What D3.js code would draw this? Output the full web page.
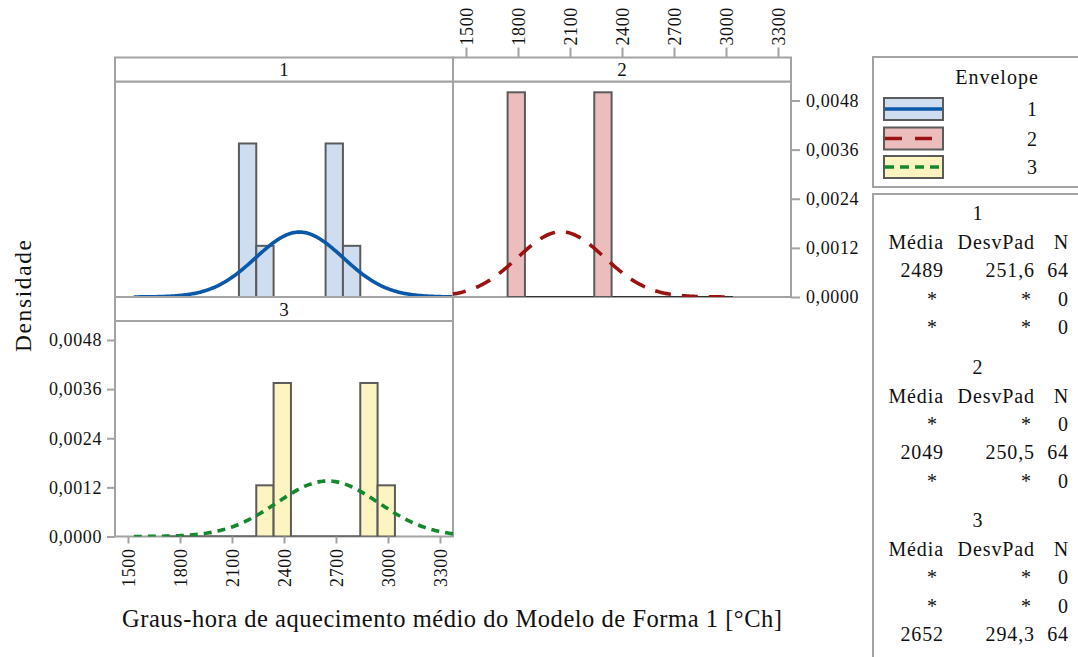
<!DOCTYPE html>
<html>
<head>
<meta charset="utf-8">
<script src="https://cdn.jsdelivr.net/npm/d3@7/dist/d3.min.js"></script>
<style>
  html, body { margin: 0; padding: 0; background: #fff; }
  svg { display: block; font-family: "Liberation Serif", "Times New Roman", serif; }
</style>
</head>
<body>
<svg id="chart" width="1078" height="657"></svg>
<script>
// Envelope groups
const groups = ["1", "2", "3"];

// Histogram bin edges (°Ch), shared by every panel
const binEdges = [1740, 1840, 1940, 2040, 2140, 2240, 2340, 2440, 2540, 2640, 2740, 2840, 2940, 3040];

// Counts per bin for each envelope
const counts1 = [0, 0, 0, 0, 24, 8, 0, 0, 0, 24, 8, 0, 0];
const counts2 = [32, 0, 0, 0, 0, 32, 0, 0, 0, 0, 0, 0, 0];
const counts3 = [0, 0, 0, 0, 0, 8, 24, 0, 0, 0, 0, 24, 8];

// Summary statistics per envelope
const means = [2489, 2049, 2652];
const stdevs = [251.6, 250.5, 294.3];
const sizes = [64, 64, 64];
const meanLabels = ["2489", "2049", "2652"];
const stdevLabels = ["251,6", "250,5", "294,3"];

// Axis ticks
const xTicks = [1500, 1800, 2100, 2400, 2700, 3000, 3300];
const yTicks = [0, 0.0012, 0.0024, 0.0036, 0.0048];

const countsByGroup = [counts1, counts2, counts3];

const fills = ["#cedef0", "#ebbdbd", "#fdf5c1"];
const lineColors = ["#0a58aa", "#9a1212", "#14882c"];
const dashes = [null, "16,11", "8,6"];

const svg = d3.select("#chart");
const frameColor = "#a3a3a3";

const locale = d3.formatLocale({ decimal: ",", thousands: ".", grouping: [3], currency: ["", ""] });
const yFmt = locale.format(".4f");

// Panel geometry
const panelW = 338;
const stripH = 24;
const plotH = 215.5;
const panels = [
  { g: 0, x: 115, stripY: 57.5 },
  { g: 1, x: 453, stripY: 57.5 },
  { g: 2, x: 115, stripY: 297 }
];

const x = d3.scaleLinear().domain([1425, 3375]).range([0, panelW]);
const y = d3.scaleLinear().domain([0, 0.005264]).range([plotH, 0]);

const defs = svg.append("defs");
defs.append("clipPath").attr("id", "plotClip")
  .append("rect").attr("x", 0).attr("y", -2).attr("width", panelW).attr("height", plotH + 2);

function normalPdf(v, m, s) {
  const z = (v - m) / s;
  return Math.exp(-0.5 * z * z) / (s * Math.sqrt(2 * Math.PI));
}

panels.forEach(p => {
  const gi = p.g;
  const counts = countsByGroup[gi];
  const n = sizes[gi];
  const plotY = p.stripY + stripH;
  const pg = svg.append("g").attr("transform", `translate(${p.x},${plotY})`);

  // strip header
  svg.append("rect")
    .attr("x", p.x).attr("y", p.stripY).attr("width", panelW).attr("height", stripH)
    .attr("fill", "#fff").attr("stroke", frameColor).attr("stroke-width", 2);
  svg.append("text")
    .attr("x", p.x + panelW / 2).attr("y", p.stripY + stripH / 2)
    .attr("dy", "0.36em").attr("text-anchor", "middle")
    .attr("font-size", 19).attr("fill", "#111").text(groups[gi]);

  // plot frame
  pg.append("rect")
    .attr("width", panelW).attr("height", plotH)
    .attr("fill", "#fff").attr("stroke", frameColor).attr("stroke-width", 2);

  const inner = pg.append("g").attr("clip-path", "url(#plotClip)");

  // histogram bars
  const bins = counts.map((c, i) => ({ x0: binEdges[i], x1: binEdges[i + 1], d: c / (n * (binEdges[i + 1] - binEdges[i])) }));
  inner.append("line")
    .attr("x1", x(binEdges[0])).attr("x2", x(binEdges[binEdges.length - 1]))
    .attr("y1", y(0)).attr("y2", y(0))
    .attr("stroke", "#333").attr("stroke-width", 2);
  inner.selectAll("rect.bar").data(bins.filter(b => b.d > 0)).enter().append("rect")
    .attr("class", "bar")
    .attr("x", b => x(b.x0)).attr("width", b => x(b.x1) - x(b.x0))
    .attr("y", b => y(b.d)).attr("height", b => y(0) - y(b.d))
    .attr("fill", fills[gi]).attr("stroke", "#5b5b5b").attr("stroke-width", 2);

  // fitted normal curve
  const m = means[gi], s = stdevs[gi];
  const lo = m - 3.8 * s, hi = m + 3.8 * s;
  const pts = d3.range(0, 301).map(k => lo + (hi - lo) * k / 300);
  const line = d3.line().x(v => x(v)).y(v => y(normalPdf(v, m, s)));
  const path = inner.append("path").datum(pts)
    .attr("d", line).attr("fill", "none")
    .attr("stroke", lineColors[gi]).attr("stroke-width", 3.6);
  if (dashes[gi]) path.attr("stroke-dasharray", dashes[gi]);
});

// axes
function styleAxis(g) {
  g.selectAll(".domain").remove();
  g.selectAll(".tick line").attr("stroke", frameColor).attr("stroke-width", 2);
  g.selectAll(".tick text").attr("fill", "#111").attr("font-size", 18)
    .attr("font-family", "Liberation Serif, Times New Roman, serif")
    .style("letter-spacing", "0.6px");
}

// left y axis for panel 3
const p3 = panels[2];
svg.append("g")
  .attr("transform", `translate(${p3.x},${p3.stripY + stripH})`)
  .call(d3.axisLeft(y).tickValues(yTicks).tickFormat(yFmt).tickSize(8).tickPadding(5))
  .call(styleAxis);

// right y axis for panel 2
const p2 = panels[1];
svg.append("g")
  .attr("transform", `translate(${p2.x + panelW},${p2.stripY + stripH})`)
  .call(d3.axisRight(y).tickValues(yTicks).tickFormat(yFmt).tickSize(9).tickPadding(6))
  .call(styleAxis);

// bottom x axis for panel 3
const bx = svg.append("g")
  .attr("transform", `translate(${p3.x},${p3.stripY + stripH + plotH})`)
  .call(d3.axisBottom(x).tickValues(xTicks).tickFormat(d3.format("d")).tickSize(7))
  .call(styleAxis);
bx.selectAll(".tick text")
  .attr("transform", "rotate(-90)").attr("text-anchor", "end")
  .attr("x", -12).attr("y", 0).attr("dy", "0.34em");

// top x axis for panel 2
const tx = svg.append("g")
  .attr("transform", `translate(${p2.x},${p2.stripY})`)
  .call(d3.axisTop(x).tickValues(xTicks).tickFormat(d3.format("d")).tickSize(10))
  .call(styleAxis);
tx.selectAll(".tick text")
  .attr("transform", "rotate(-90)").attr("text-anchor", "start")
  .attr("x", 12).attr("y", 0).attr("dy", "0.34em");

// axis titles
svg.append("text")
  .attr("x", 452).attr("y", 627).attr("text-anchor", "middle")
  .attr("font-size", 24.5).attr("fill", "#111")
  .attr("textLength", 660).attr("lengthAdjust", "spacing")
  .text("Graus-hora de aquecimento médio do Modelo de Forma 1 [°Ch]");

svg.append("text")
  .attr("transform", "translate(31,296) rotate(-90)")
  .attr("text-anchor", "middle")
  .attr("font-size", 23.5).attr("fill", "#111")
  .attr("textLength", 112).attr("lengthAdjust", "spacing")
  .text("Densidade");

// legend
const lg = svg.append("g");
lg.append("rect").attr("x", 873).attr("y", 57).attr("width", 220).attr("height", 130)
  .attr("fill", "#fff").attr("stroke", frameColor).attr("stroke-width", 2);
lg.append("text").attr("x", 997).attr("y", 77).attr("dy", "0.35em").attr("text-anchor", "middle")
  .attr("font-size", 20).style("letter-spacing", "1px").attr("fill", "#111").text("Envelope");
const legRows = [98, 127.5, 156];
groups.forEach((gname, i) => {
  const ry = legRows[i];
  lg.append("rect").attr("x", 884).attr("y", ry).attr("width", 59).attr("height", 22)
    .attr("fill", fills[i]).attr("stroke", "#5b5b5b").attr("stroke-width", 2);
  const ln = lg.append("line").attr("x1", 885).attr("x2", 942).attr("y1", ry + 11).attr("y2", ry + 11)
    .attr("stroke", lineColors[i]).attr("stroke-width", 3.4);
  if (i === 1) ln.attr("stroke-dasharray", "17,13");
  if (i === 2) ln.attr("stroke-dasharray", "9,6");
  lg.append("text").attr("x", 1032).attr("y", ry + 11).attr("dy", "0.35em").attr("text-anchor", "middle")
    .attr("font-size", 20).attr("fill", "#111").text(gname);
});

// summary statistics table
const st = svg.append("g");
st.append("rect").attr("x", 873).attr("y", 194).attr("width", 220).attr("height", 480)
  .attr("fill", "#fff").attr("stroke", frameColor).attr("stroke-width", 2);
const colRight = [944, 1035, 1069];
function cell(xp, yp, txt, anchor) {
  st.append("text").attr("x", xp).attr("y", yp).attr("dy", "0.35em")
    .attr("text-anchor", anchor).attr("font-size", 20).attr("fill", "#111")
    .style("letter-spacing", "0.9px").text(txt);
}
groups.forEach((gname, i) => {
  const by = 213 + i * 153.5;
  cell(978, by, gname, "middle");
  cell(colRight[0], by + 29, "Média", "end");
  cell(colRight[1], by + 29, "DesvPad", "end");
  cell(colRight[2], by + 29, "N", "end");
  groups.forEach((_, j) => {
    const ry = by + 57 + j * 28.7;
    if (j === i) {
      cell(colRight[0], ry, meanLabels[i], "end");
      cell(colRight[1], ry, stdevLabels[i], "end");
      cell(colRight[2], ry, String(sizes[i]), "end");
    } else {
      cell(colRight[0] - 6, ry, "*", "end");
      cell(colRight[1] - 3, ry, "*", "end");
      cell(colRight[2], ry, "0", "end");
    }
  });
});
</script>
</body>
</html>
